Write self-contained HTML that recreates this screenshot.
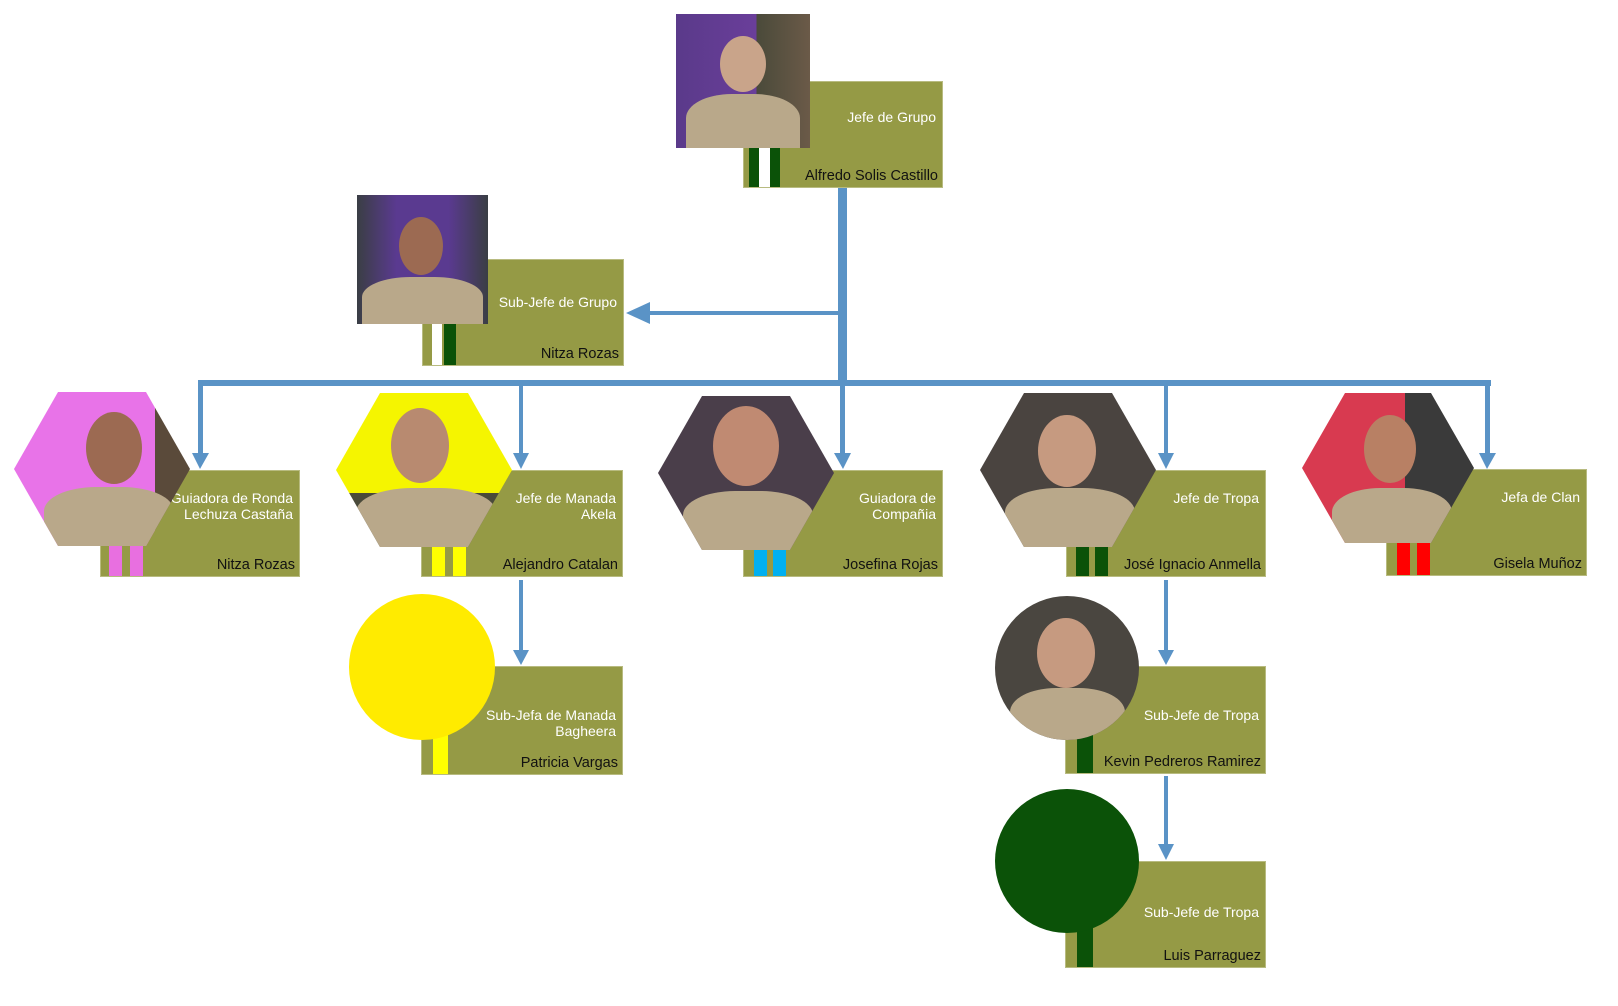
<!DOCTYPE html>
<html><head><meta charset="utf-8"><style>
body{margin:0;width:1618px;height:1006px;background:#fff;position:relative;overflow:hidden;font-family:"Liberation Sans",sans-serif}
.a{position:absolute}
.box{position:absolute;background:#959a45;border:1px solid #b8bb80;box-sizing:border-box}
.t{position:absolute;right:6px;color:#fff;font-size:14px;text-align:right;line-height:16px}
.n{position:absolute;right:4px;bottom:3px;color:#111;font-size:14.5px}
.s{position:absolute;top:0;bottom:0;width:13px}
.hex{position:absolute;width:176px;height:154px;clip-path:polygon(25% 0,75% 0,100% 50%,75% 100%,25% 100%,0 50%)}
.face{position:absolute;border-radius:50%;background:#b07a60}
.body{position:absolute;background:#b9a88a;border-radius:40% 40% 0 0}
</style></head><body>
<svg class="a" style="left:0;top:0" width="1618" height="1006">
<g fill="#5a93c6" stroke="none">
<rect x="838" y="188" width="9" height="196"/>
<rect x="640" y="311" width="198" height="4"/>
<polygon points="626,313 650,302 650,324"/>
<rect x="198" y="380" width="1293" height="6"/>
<rect x="198" y="380" width="5" height="75"/><polygon points="192,453 209,453 200,469"/>
<rect x="519" y="380" width="4" height="75"/><polygon points="513,453 529,453 521,469"/>
<rect x="840" y="380" width="5" height="75"/><polygon points="834,453 851,453 843,469"/>
<rect x="1164" y="380" width="4" height="75"/><polygon points="1158,453 1174,453 1166,469"/>
<rect x="1485" y="380" width="5" height="75"/><polygon points="1479,453 1496,453 1487,469"/>
<rect x="519" y="580" width="4" height="72"/><polygon points="513,650 529,650 521,665"/>
<rect x="1164" y="580" width="4" height="72"/><polygon points="1158,650 1174,650 1166,665"/>
<rect x="1164" y="776" width="4" height="70"/><polygon points="1158,844 1174,844 1166,860"/>
</g></svg>

<div class="box" style="left:743px;top:81px;width:200px;height:107px"><div class="s" style="left:5px;background:#0b5208;width:10px"></div><div class="s" style="left:15px;background:#fff;width:11px"></div><div class="s" style="left:26px;background:#0b5208;width:10px"></div><div class="t" style="top:27px">Jefe de Grupo</div><div class="n">Alfredo Solis Castillo</div></div>
<div class="a" style="left:676px;top:14px;width:134px;height:134px;background:linear-gradient(90deg,#5a3a8a 0,#6a3e9a 60%,#4a4a3a 60%,#6b5a48 100%);overflow:hidden"><div class="face" style="left:44px;top:22px;width:46px;height:56px;background:#c9a48a"></div><div class="body" style="left:10px;top:80px;width:114px;height:60px"></div></div>

<div class="box" style="left:422px;top:259px;width:202px;height:107px"><div class="s" style="left:9px;background:#fff;width:10px"></div><div class="s" style="left:21px;background:#0b5208;width:12px"></div><div class="t" style="top:34px">Sub-Jefe de Grupo</div><div class="n">Nitza Rozas</div></div>
<div class="a" style="left:357px;top:195px;width:131px;height:129px;background:linear-gradient(90deg,#3a3e44,#5a3a90 30%,#5a3a90 70%,#3a3e44);overflow:hidden"><div class="face" style="left:42px;top:22px;width:44px;height:58px;background:#9c6a52"></div><div class="body" style="left:5px;top:82px;width:121px;height:50px"></div></div>

<div class="box" style="left:100px;top:470px;width:200px;height:107px"><div class="s" style="left:8px;background:#e86fe0"></div><div class="s" style="left:29px;background:#e86fe0"></div><div class="t" style="top:19px">Guiadora de Ronda<br>Lechuza Castaña</div><div class="n">Nitza Rozas</div></div>
<div class="hex" style="left:14px;top:392px;background:linear-gradient(90deg,#e873e8 0,#e873e8 80%,#5a4a3a 80%)"><div class="face" style="left:72px;top:20px;width:56px;height:72px;background:#9c6a52"></div><div class="body" style="left:30px;top:95px;width:130px;height:60px"></div></div>

<div class="box" style="left:421px;top:470px;width:202px;height:107px"><div class="s" style="left:10px;background:#ffff00"></div><div class="s" style="left:31px;background:#ffff00"></div><div class="t" style="top:19px">Jefe de Manada<br>Akela</div><div class="n">Alejandro Catalan</div></div>
<div class="hex" style="left:336px;top:393px;background:linear-gradient(180deg,#f5f500 0,#f5f500 65%,#4a4a3a 65%)"><div class="face" style="left:55px;top:15px;width:58px;height:75px;background:#b88a70"></div><div class="body" style="left:20px;top:95px;width:140px;height:60px"></div></div>

<div class="box" style="left:743px;top:470px;width:200px;height:107px"><div class="s" style="left:10px;background:#00b0f0"></div><div class="s" style="left:29px;background:#00b0f0"></div><div class="t" style="top:19px">Guiadora de<br>Compañia</div><div class="n">Josefina Rojas</div></div>
<div class="hex" style="left:658px;top:396px;background:#4a3e4a"><div class="face" style="left:55px;top:10px;width:66px;height:80px;background:#c08a72"></div><div class="body" style="left:25px;top:95px;width:130px;height:60px"></div></div>

<div class="box" style="left:1066px;top:470px;width:200px;height:107px"><div class="s" style="left:9px;background:#0b5208"></div><div class="s" style="left:28px;background:#0b5208"></div><div class="t" style="top:19px">Jefe de Tropa</div><div class="n">José Ignacio Anmella</div></div>
<div class="hex" style="left:980px;top:393px;background:#4a4440"><div class="face" style="left:58px;top:22px;width:58px;height:72px;background:#c69a80"></div><div class="body" style="left:25px;top:95px;width:130px;height:60px"></div></div>

<div class="box" style="left:1386px;top:469px;width:201px;height:107px"><div class="s" style="left:10px;background:#f00"></div><div class="s" style="left:30px;background:#f00"></div><div class="t" style="top:19px">Jefa de Clan</div><div class="n">Gisela Muñoz</div></div>
<div class="hex" style="left:1302px;top:393px;height:150px;width:172px;background:linear-gradient(90deg,#d83a50 0,#d83a50 60%,#3a3a3a 60%)"><div class="face" style="left:62px;top:22px;width:52px;height:68px;background:#b88064"></div><div class="body" style="left:30px;top:95px;width:120px;height:60px"></div></div>

<div class="box" style="left:421px;top:666px;width:202px;height:109px"><div class="s" style="left:11px;background:#ffff00;width:15px"></div><div class="t" style="top:40px">Sub-Jefa de Manada<br>Bagheera</div><div class="n">Patricia Vargas</div></div>
<div class="a" style="left:349px;top:594px;width:146px;height:146px;border-radius:50%;background:#ffeb00"></div>

<div class="box" style="left:1065px;top:666px;width:201px;height:108px"><div class="s" style="left:11px;background:#0b5208;width:16px"></div><div class="t" style="top:40px">Sub-Jefe de Tropa</div><div class="n">Kevin Pedreros Ramirez</div></div>
<div class="a" style="left:995px;top:596px;width:144px;height:144px;border-radius:50%;background:#4a4640;overflow:hidden"><div class="face" style="left:42px;top:22px;width:58px;height:70px;background:#c69a80"></div><div class="body" style="left:15px;top:92px;width:115px;height:60px"></div></div>

<div class="box" style="left:1065px;top:861px;width:201px;height:107px"><div class="s" style="left:11px;background:#0b5208;width:16px"></div><div class="t" style="top:42px">Sub-Jefe de Tropa</div><div class="n">Luis Parraguez</div></div>
<div class="a" style="left:995px;top:789px;width:144px;height:144px;border-radius:50%;background:#0b5208"></div>
</body></html>
